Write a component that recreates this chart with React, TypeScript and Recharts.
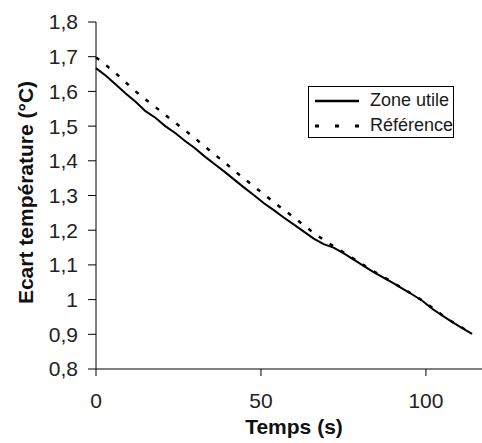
import {
  LineChart,
  Line,
  XAxis,
  YAxis,
  Legend,
  Label,
} from "recharts";

const times = [
  0, 3, 6, 9, 12, 15, 18, 21, 24, 27, 30, 33, 36, 39, 42, 45, 48, 51, 54, 57,
  60, 63, 66, 69, 72, 75, 78, 81, 84, 87, 90, 93, 96, 99, 102, 105, 108, 111,
  114,
];

const zoneUtile = [
  1.667, 1.645, 1.62, 1.594, 1.57, 1.543, 1.524, 1.5, 1.48, 1.457, 1.436,
  1.412, 1.39, 1.368, 1.345, 1.322, 1.3, 1.277, 1.257, 1.236, 1.216, 1.196,
  1.176, 1.16, 1.15, 1.134, 1.116, 1.098, 1.08, 1.064, 1.048, 1.031, 1.014,
  0.996, 0.973, 0.954, 0.935, 0.918, 0.901,
];

const reference = [
  1.698, 1.676, 1.652, 1.626, 1.6, 1.577, 1.555, 1.532, 1.51, 1.488, 1.465,
  1.441, 1.418, 1.395, 1.371, 1.348, 1.325, 1.303, 1.28, 1.258, 1.237, 1.214,
  1.192, 1.172, 1.154, 1.136, 1.118, 1.1, 1.082, 1.066, 1.049, 1.032, 1.015,
  0.997, 0.976, 0.955, 0.936, 0.919, 0.902,
];

const yTicks = [0.8, 0.9, 1, 1.1, 1.2, 1.3, 1.4, 1.5, 1.6, 1.7, 1.8];
const xTicks = [0, 50, 100];

const seriesNames = ["Zone utile", "Référence"];

const FONT = '"Liberation Sans", Arial, sans-serif';

const data = times.map((t, i) => ({
  t,
  zone: zoneUtile[i],
  ref: reference[i],
}));

const formatY = (v: number) =>
  String(Number(v.toFixed(1))).replace(".", ",");

const renderLegend = () => (
  <div
    style={{
      border: "1.5px solid #000",
      background: "#fff",
      width: 144,
      height: 50,
      boxSizing: "content-box",
      fontFamily: FONT,
      fontSize: 18,
      color: "#1a1a1a",
    }}
  >
    {seriesNames.map((name, i) => (
      <div
        key={name}
        style={{
          display: "flex",
          alignItems: "center",
          height: 25,
          marginTop: i === 0 ? 1 : 0,
        }}
      >
        <svg width={56} height={10} style={{ marginLeft: 5 }}>
          <line
            x1={1}
            y1={5}
            x2={45}
            y2={5}
            stroke="#000"
            strokeWidth={i === 0 ? 2.5 : 3}
            strokeDasharray={i === 0 ? undefined : "4 16"}
          />
        </svg>
        <span>{name}</span>
      </div>
    ))}
  </div>
);

const YTitle = (props: any) => {
  const { viewBox } = props;
  const cx = 25;
  const cy = viewBox.y + viewBox.height / 2 - 3;
  return (
    <text
      x={cx}
      y={cy}
      transform={`rotate(-90, ${cx}, ${cy})`}
      textAnchor="middle"
      dominantBaseline="central"
      fontFamily={FONT}
      fontSize={21}
      fontWeight="bold"
      fill="#111"
    >
      Ecart température (°C)
    </text>
  );
};

const XTitle = (props: any) => {
  const { viewBox } = props;
  return (
    <text
      x={viewBox.x + viewBox.width / 2 + 5}
      y={434}
      textAnchor="middle"
      fontFamily={FONT}
      fontSize={21}
      fontWeight="bold"
      fill="#111"
    >
      Temps (s)
    </text>
  );
};

const App = () => {
  return (
    <div
      style={{
        position: "absolute",
        left: 0,
        top: 0,
        width: 482,
        height: 443,
        background: "#fff",
      }}
    >
      <LineChart
        width={482}
        height={443}
        data={data}
        margin={{ top: 22, right: 0, bottom: 0, left: 0 }}
      >
        <XAxis
          dataKey="t"
          type="number"
          domain={[0, 117]}
          ticks={xTicks}
          height={74}
          stroke="#000"
          tickSize={7}
          tickMargin={17}
          tick={{ fill: "#222", fontSize: 21, fontFamily: FONT }}
        >
          <Label content={XTitle} />
        </XAxis>
        <YAxis
          type="number"
          domain={[0.8, 1.8]}
          ticks={yTicks}
          width={96}
          stroke="#000"
          tickSize={8}
          tickMargin={10}
          tickFormatter={formatY}
          tick={{ fill: "#222", fontSize: 21, fontFamily: FONT }}
        >
          <Label content={YTitle} />
        </YAxis>
        <Legend
          layout="vertical"
          align="center"
          verticalAlign="middle"
          content={renderLegend}
          wrapperStyle={{ left: 308, top: 86, width: 147, height: 53 }}
        />
        <Line
          type="linear"
          dataKey="ref"
          name={seriesNames[1]}
          stroke="#000"
          strokeWidth={2.5}
          strokeDasharray="4 9"
          dot={false}
          isAnimationActive={false}
        />
        <Line
          type="linear"
          dataKey="zone"
          name={seriesNames[0]}
          stroke="#000"
          strokeWidth={2}
          dot={false}
          isAnimationActive={false}
        />
      </LineChart>
    </div>
  );
};

export default App;
